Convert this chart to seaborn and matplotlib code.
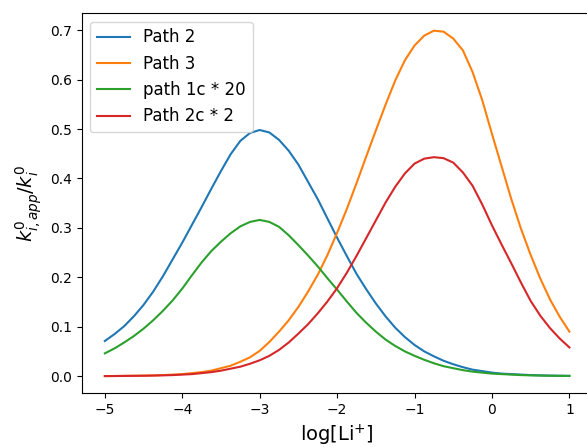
import numpy as np
import pandas as pd
import seaborn as sns
import matplotlib
matplotlib.use("Agg")
import matplotlib.pyplot as plt

# log[Li+] positions (step 0.125)
log_li = [-5.0, -4.875, -4.75, -4.625, -4.5, -4.375, -4.25, -4.125,
          -4.0, -3.875, -3.75, -3.625, -3.5, -3.375, -3.25, -3.125,
          -3.0, -2.875, -2.75, -2.625, -2.5, -2.375, -2.25, -2.125,
          -2.0, -1.875, -1.75, -1.625, -1.5, -1.375, -1.25, -1.125,
          -1.0, -0.875, -0.75, -0.625, -0.5, -0.375, -0.25, -0.125,
          0.0, 0.125, 0.25, 0.375, 0.5, 0.625, 0.75, 0.875,
          1.0]

path2 = [0.071, 0.085, 0.101, 0.121, 0.144, 0.171, 0.202, 0.236,
         0.270, 0.306, 0.342, 0.379, 0.415, 0.449, 0.476, 0.492,
         0.498, 0.493, 0.478, 0.456, 0.428, 0.393, 0.358, 0.319,
         0.280, 0.243, 0.207, 0.176, 0.147, 0.121, 0.098, 0.079,
         0.063, 0.050, 0.040, 0.031, 0.024, 0.018, 0.013, 0.010,
         0.007, 0.005, 0.004, 0.003, 0.002, 0.0015, 0.001, 0.0007,
         0.0005]
path3 = [0.000, 0.0002, 0.0005, 0.0007, 0.001, 0.0015, 0.002, 0.003,
         0.004, 0.006, 0.008, 0.011, 0.016, 0.021, 0.029, 0.038,
         0.051, 0.069, 0.090, 0.113, 0.140, 0.171, 0.205, 0.245,
         0.290, 0.338, 0.390, 0.444, 0.497, 0.549, 0.598, 0.639,
         0.669, 0.689, 0.699, 0.697, 0.683, 0.659, 0.615, 0.558,
         0.490, 0.424, 0.358, 0.298, 0.245, 0.197, 0.155, 0.120,
         0.090]
path1c_x20 = [0.046, 0.056, 0.068, 0.081, 0.096, 0.113, 0.132, 0.153,
              0.177, 0.204, 0.230, 0.253, 0.272, 0.289, 0.303, 0.312,
              0.316, 0.312, 0.302, 0.285, 0.265, 0.244, 0.222, 0.198,
              0.175, 0.151, 0.128, 0.108, 0.090, 0.074, 0.061, 0.050,
              0.041, 0.033, 0.026, 0.020, 0.016, 0.012, 0.009, 0.007,
              0.005, 0.004, 0.003, 0.002, 0.0015, 0.001, 0.0007, 0.0005,
              0.0003]
path2c_x2 = [0.000, 0.0001, 0.0003, 0.0005, 0.0007, 0.001, 0.0015, 0.002,
             0.003, 0.004, 0.006, 0.008, 0.011, 0.015, 0.019, 0.025,
             0.032, 0.041, 0.053, 0.068, 0.086, 0.105, 0.127, 0.151,
             0.178, 0.209, 0.243, 0.279, 0.315, 0.351, 0.383, 0.410,
             0.430, 0.440, 0.443, 0.441, 0.432, 0.412, 0.385, 0.347,
             0.305, 0.266, 0.228, 0.189, 0.152, 0.122, 0.097, 0.076,
             0.058]

labels = ["Path 2", "Path 3", "path 1c * 20", "Path 2c * 2"]
series = [path2, path3, path1c_x20, path2c_x2]

fig = plt.figure(figsize=(5.87, 4.47), dpi=100)
ax = fig.add_axes([0.139, 0.120, 1.0096 - 0.139, 0.970 - 0.120])

for lab, vals in zip(labels, series):
    df = pd.DataFrame({"x": log_li, "y": vals})
    sns.lineplot(data=df, x="x", y="y", label=lab, ax=ax)

ax.set_xlabel("log[Li$^{+}$]", fontsize=14)
ax.set_ylabel(r"$k^0_{i,app}/k^0_i$", fontsize=14)
ax.legend(loc="upper left", fontsize=12)

fig.savefig("out.png", dpi=100)
